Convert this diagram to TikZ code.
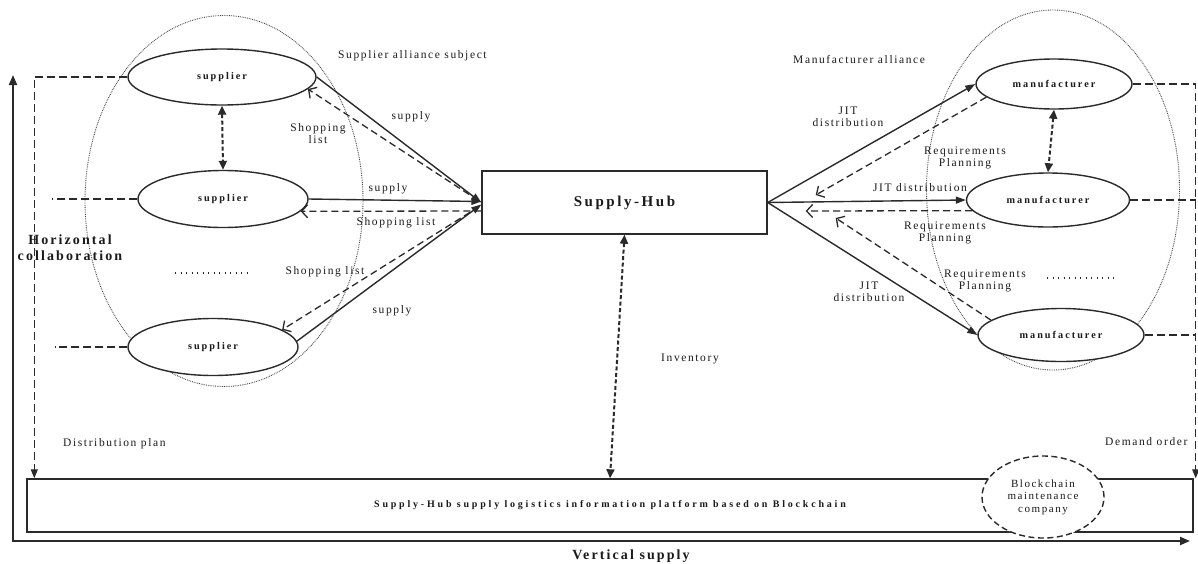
\documentclass[tikz,border=0pt]{standalone}
\usepackage{fontspec}
\setmainfont{Liberation Serif}
\newfontfamily\regf[LetterSpace=14]{Liberation Serif}
\newfontfamily\boldf[LetterSpace=20]{Liberation Serif}
\newfontfamily\platf[LetterSpace=28]{Liberation Serif}
\newfontfamily\hubf[LetterSpace=17]{Liberation Serif}
\newfontfamily\vertf[LetterSpace=15]{Liberation Serif}
\newfontfamily\horf[LetterSpace=15]{Liberation Serif}
\usetikzlibrary{arrows.meta,shapes.geometric,calc}
\definecolor{ln}{HTML}{2A2A2A}
\definecolor{txt}{HTML}{1A1A1A}
\definecolor{grpc}{HTML}{444444}
\tikzset{
  lbl/.style={font=\regf\fontsize{11.5}{12}\selectfont, text=txt, align=center, inner sep=0pt},
  blbl/.style={font=\boldf\bfseries\fontsize{10.2}{12}\selectfont, text=txt, align=center},
  grp/.style={ellipse, draw=grpc, line width=0.9pt, dash pattern=on 0.8pt off 1pt, inner sep=0pt},
  ent/.style={ellipse, draw=ln, line width=1.4pt, fill=white, inner sep=0pt, blbl},
  solidarrow/.style={draw=ln, line width=1.4pt, -{Triangle[length=10pt,width=7pt]}},
  openarrow/.style={draw=ln, line width=1.3pt, dash pattern=on 7pt off 4pt, -{Straight Barb[length=6pt,width=13pt]}},
  dblarrow/.style={draw=ln, line width=2pt, dash pattern=on 4pt off 2.5pt, {Triangle[length=9pt,width=8pt]}-{Triangle[length=9pt,width=8pt]}},
  linkline/.style={draw=ln, line width=1.3pt, dash pattern=on 8pt off 4pt},
  linkarrow/.style={linkline, -{Triangle[length=9pt,width=7pt]}},
}
\begin{document}
\begin{tikzpicture}[x=1pt,y=-1pt]
\useasboundingbox[fill=white] (0,0) rectangle (1198,563);

% alliance groups
\node[grp, minimum width=278, minimum height=371] (sgrp) at (224,201) {};
\node[grp, minimum width=253, minimum height=360] (mgrp) at (1053,190) {};

% entities
\node[ent, minimum width=188, minimum height=56] (sup1) at (222,77) {supplier};
\node[ent, minimum width=170, minimum height=57] (sup2) at (223,199) {supplier};
\node[ent, minimum width=170, minimum height=57] (sup3) at (213,347) {supplier};
\node[ent, minimum width=156, minimum height=50] (mf1) at (1054,84) {manufacturer};
\node[ent, minimum width=163, minimum height=54] (mf2) at (1048,200) {manufacturer};
\node[ent, minimum width=166, minimum height=53] (mf3) at (1061,335) {manufacturer};

\node[draw=ln, line width=1.4pt, fill=white, minimum width=285, minimum height=63, inner sep=0pt,
      font=\hubf\bfseries\fontsize{15}{17}\selectfont, text=txt] (hub) at (624.5,202.5) {Supply-Hub};

\node[draw=ln, line width=1.4pt, fill=white, minimum width=1166, minimum height=53, inner sep=0pt,
      font=\platf\bfseries\fontsize{10}{12}\selectfont, text=txt]
      (plat) at (610,505.5) {Supply-Hub supply logistics information platform based on Blockchain};
\node[ellipse, draw=ln, line width=1.4pt, dash pattern=on 6pt off 3.5pt, fill=white, minimum width=122, minimum height=82,
      inner sep=0pt, lbl, font=\regf\fontsize{11}{12.5}\selectfont] (bmc) at (1043,497) {Blockchain\\maintenance\\company};

% axes
\coordinate (ytop) at (13,75);
\coordinate (orig) at (13,541);
\coordinate (xend) at (1190,541);
\draw[ln, line width=2pt, {Triangle[length=10pt,width=8pt]}-{Triangle[length=10pt,width=8pt]}] (ytop) -- (orig) -- (xend);

% supplier side
\draw[solidarrow] (sup1.east) -- (hub.west);
\draw[openarrow] ($(hub.west)+(-3,-2)$) -- (sup1.-8);
\draw[solidarrow] (sup2.east) -- ($(hub.west)+(0,-1)$);
\draw[openarrow] ($(hub.west)+(0,8.5)$) -- (sup2.-9);
\draw[solidarrow] (sup3.4) -- ($(hub.west)+(0,2)$);
\draw[openarrow] ($(hub.west)+(-2,4)$) -- (sup3.14);
\draw[dblarrow] (sup1.south) -- (sup2.north);

% manufacturer side
\draw[solidarrow] (hub.east) -- (mf1.west);
\draw[openarrow] (mf1.191) -- ($(hub.east)+(48,-7.5)$);
\draw[solidarrow] (hub.east) -- (mf2.west);
\draw[openarrow] (mf2.188) -- ($(hub.east)+(38,8.5)$);
\draw[solidarrow] (hub.east) -- (mf3.west);
\draw[openarrow] (mf3.168) -- ($(hub.east)+(68,15.5)$);
\draw[dblarrow] (mf1.south) -- (mf2.north);

% inventory
\draw[dblarrow] (hub.south) -- (plat.north);

% links to platform
\coordinate (lv) at ($(plat.north west)+(8,0)$);
\coordinate (rv) at ($(plat.north east)+(2,0)$);
\draw[linkarrow] (sup1.west) -| (lv);
\coordinate (s2end) at (52,199);
\coordinate (s3end) at (55,347);
\draw[linkline] (sup2.west) -- (s2end);
\draw[linkline] (sup3.west) -- (s3end);
\draw[linkarrow] (mf1.east) -| (rv);
\draw[linkline] (mf2.east) -- (rv |- mf2.east);
\draw[linkline] (mf3.east) -- (rv |- mf3.east);

% ellipsis dots
\draw[ln, line width=1.2pt, dash pattern=on 1pt off 4.5pt] (175,273) -- (248,273);
\draw[ln, line width=1.2pt, dash pattern=on 1pt off 4.5pt] (1047,278) -- (1117,278);

% labels
\node[lbl, anchor=west] (lsas) at (338,56) {Supplier alliance subject};
\node[lbl, anchor=west] (lma) at (793,60) {Manufacturer alliance};
\node[lbl] (ls1) at (411,117) {supply};
\node[lbl] (lsl1) at (318,133.5) {Shopping\\list};
\node[lbl] (ls2) at (388,189) {supply};
\node[lbl] (lsl2) at (396,223) {Shopping list};
\node[lbl] (lsl3) at (325,272) {Shopping list};
\node[lbl] (ls3) at (392,311) {supply};
\node[lbl] (lj1) at (848,116.5) {JIT\\distribution};
\node[lbl] (lr1) at (965,157.5) {Requirements\\Planning};
\node[lbl] (lj2) at (920,188) {JIT distribution};
\node[lbl] (lr2) at (945,233) {Requirements\\Planning};
\node[lbl] (lr3) at (985,280.5) {Requirements\\Planning};
\node[lbl] (lj3) at (869,292) {JIT\\distribution};
\node[lbl] (linv) at (690,359) {Inventory};
\node[lbl, anchor=west] (ldp) at (63,444) {Distribution plan};
\node[lbl, anchor=west] (ldo) at (1105,442) {Demand order};
\node[font=\horf\bfseries\fontsize{14}{16}\selectfont, text=txt, align=center, inner sep=0pt] (lhc) at (70,248) {Horizontal\\collaboration};
\node[font=\vertf\bfseries\fontsize{14}{16}\selectfont, text=txt, inner sep=0pt] (lvs) at (631,556) {Vertical supply};
\end{tikzpicture}
\end{document}
